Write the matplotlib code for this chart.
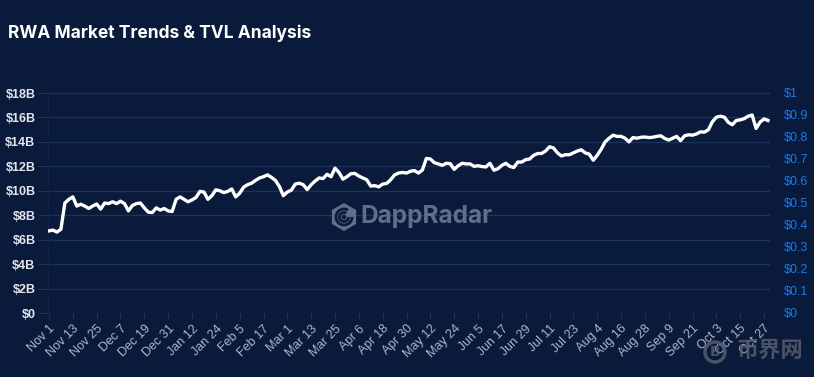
import pandas as pd
import matplotlib.pyplot as plt
from matplotlib.patches import RegularPolygon, Circle, Arc

# RWA TVL (billions USD), one value every 2 days from Nov 1
tvl = [
    6.72, 6.78, 6.62, 6.85, 9.0, 9.3, 9.5, 8.75, 8.9, 8.75,
    8.55, 8.75, 8.92, 8.5, 9.0, 8.95, 9.1, 8.95, 9.15, 8.95,
    8.35, 8.8, 8.95, 9.0, 8.6, 8.25, 8.22, 8.6, 8.42, 8.55,
    8.35, 8.3, 9.3, 9.5, 9.3, 9.1, 9.25, 9.45, 9.95, 9.9,
    9.3, 9.6, 10.08, 10.0, 9.85, 9.95, 10.15, 9.5, 9.8, 10.3,
    10.5, 10.62, 10.85, 11.05, 11.15, 11.3, 11.1, 10.85, 10.35, 9.6,
    9.9, 10.05, 10.55, 10.62, 10.5, 10.1, 10.5, 10.8, 11.05, 11.0,
    11.35, 11.15, 11.85, 11.5, 10.95, 11.15, 11.4, 11.42, 11.2, 11.05,
    10.9, 10.38, 10.42, 10.32, 10.55, 10.6, 10.9, 11.3, 11.45, 11.5,
    11.45, 11.6, 11.65, 11.45, 11.7, 12.65, 12.6, 12.3, 12.2, 12.08,
    12.25, 12.22, 11.75, 12.05, 12.25, 12.2, 12.2, 12.0, 12.05, 11.98,
    11.95, 12.25, 11.68, 11.8, 12.08, 12.25, 12.0, 11.9, 12.35, 12.35,
    12.55, 12.6, 12.9, 13.05, 13.05, 13.25, 13.6, 13.5, 13.1, 12.85,
    12.95, 12.95, 13.1, 13.25, 13.35, 13.1, 13.0, 12.5, 12.9, 13.4,
    14.0, 14.3, 14.55, 14.45, 14.45, 14.3, 14.0, 14.35, 14.3, 14.38,
    14.4, 14.35, 14.38, 14.45, 14.5, 14.28, 14.15, 14.3, 14.45, 14.1,
    14.5, 14.58, 14.55, 14.65, 14.82, 14.8, 15.0, 15.65, 16.02, 16.1,
    16.02, 15.6, 15.4, 15.75, 15.8, 15.9, 16.1, 16.2, 15.1, 15.62,
    15.88, 15.75,
]
dates = pd.date_range('2024-11-01', periods=len(tvl), freq='2D')

tick_dates = pd.date_range('2024-11-01', '2025-10-27', freq='12D')
tick_labels = [f"{d.strftime('%b')} {d.day}" for d in tick_dates]

left_ticks = list(range(0, 19, 2))
left_labels = [f'${v}B' if v else '$0' for v in left_ticks]
right_ticks = [i / 10 for i in range(11)]
right_labels = ['$0'] + [f'${v:.1f}' for v in right_ticks[1:-1]] + ['$1']

bg = '#0a1a3a'
grid_c = '#1d335e'

fig = plt.figure(figsize=(8.14, 3.77), dpi=100, facecolor=bg)
ax = fig.add_axes([48 / 814, 1 - 313 / 377, (770 - 48) / 814, 220 / 377])
ax.set_facecolor(bg)

ax.plot(dates, tvl, color='white', linewidth=2.4, solid_joinstyle='round', zorder=3)

ax.set_xlim(dates[0] - pd.Timedelta(hours=12), dates[-1] + pd.Timedelta(days=1))
ax.set_ylim(0, 18)
ax.set_yticks(left_ticks)
ax.set_yticklabels(left_labels, color='#e3e6ec', fontsize=9, fontweight='bold', family='Liberation Sans')
ax.grid(axis='y', color=grid_c, linewidth=0.9)
ax.tick_params(axis='y', length=7, color=grid_c, pad=2)

ax.set_xticks(tick_dates)
ax.set_xticklabels(tick_labels, rotation=45, ha='right', va='top', rotation_mode='anchor',
                   color='#aeb6c6', fontsize=9, family='Liberation Sans')
ax.tick_params(axis='x', length=4, color=grid_c, pad=3)

for s in ['top', 'right', 'bottom']:
    ax.spines[s].set_visible(False)
ax.spines['left'].set_color('#102246')

ax2 = ax.twinx()
ax2.set_ylim(0, 1)
ax2.set_yticks(right_ticks)
ax2.set_yticklabels(right_labels, color='#1f78e6', fontsize=9, family='Liberation Sans')
ax2.tick_params(axis='y', length=0, pad=10)
for s in ax2.spines.values():
    s.set_visible(False)

# title
fig.text(8 / 814, 1 - 33 / 377, 'RWA Market Trends & TVL Analysis', color='white',
         fontsize=12.5, fontweight='bold', family='Inter', va='center', ha='left')

# DappRadar watermark
wm = '#5f6e8a'
cx, cy = 344, 217
hexa = RegularPolygon((cx, 377 - cy), numVertices=6, radius=14, orientation=0,
                      transform=None, facecolor=wm, edgecolor='none', zorder=1)
fig.patches.append(hexa)
for r in (8, 4.5):
    fig.patches.append(Arc((cx, 377 - cy), 2 * r, 2 * r, theta1=60, theta2=360,
                           transform=None, color=bg, linewidth=2))
fig.patches.append(Circle((cx, 377 - cy), 1.6, transform=None, color=bg))
fig.text(360 / 814, 1 - cy / 377, 'DappRadar', color=wm, fontsize=17.5, fontweight='bold',
         family='Inter', va='center', ha='left', zorder=1)

# site watermark
wm2 = '#565d6e'
fig.patches.append(Circle((715, 377 - 352), 10, transform=None, fill=False,
                          edgecolor=wm2, linewidth=2.5, alpha=0.85))
fig.text(715 / 814, 1 - 352 / 377, 'B', color=wm2, fontsize=10, fontweight='bold',
         ha='center', va='center', alpha=0.85)
fig.text(736 / 814, 1 - 350 / 377, '币界网', color=wm2, fontsize=16, fontweight='bold',
         family=['Noto Sans CJK SC', 'DejaVu Sans'], va='center', ha='left', alpha=0.85)

fig.savefig('out.png', dpi=100, facecolor=bg)
